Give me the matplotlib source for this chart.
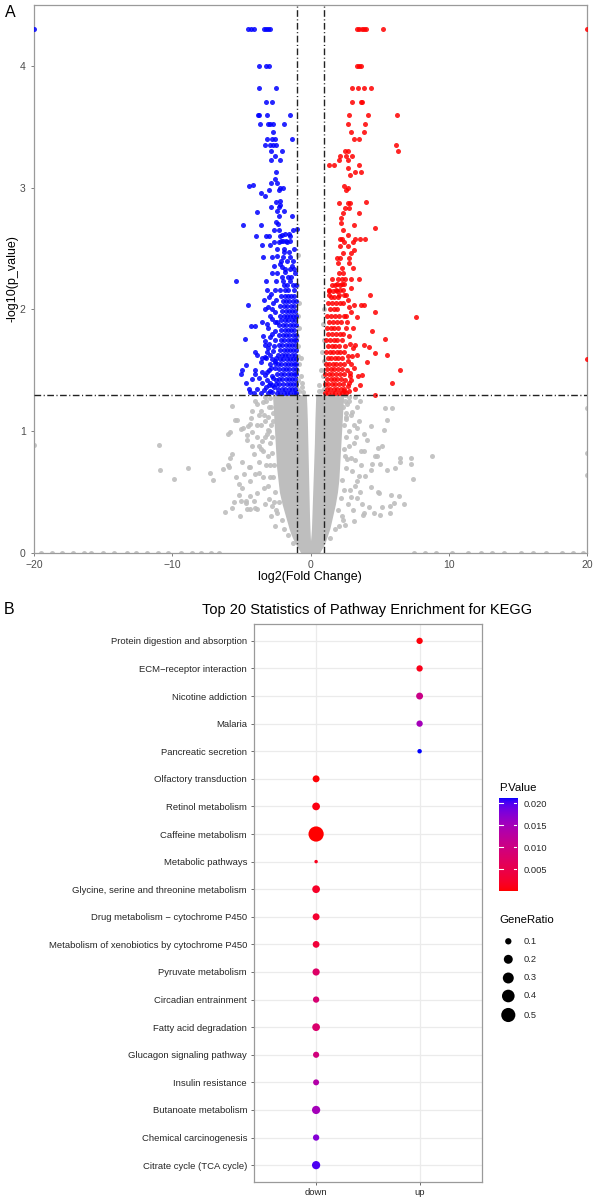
import numpy as np
import matplotlib
matplotlib.use("Agg")
import matplotlib.pyplot as plt
from matplotlib.colors import ListedColormap

plt.rcParams['font.family'] = ['Liberation Sans', 'DejaVu Sans']

# ---------------- Panel A data (volcano) ----------------
# dense grey mass of non-significant genes (envelope)
grey_band_y      = [0.0, 0.05, 0.1, 0.15, 0.2, 0.3, 0.4, 0.5, 0.6, 0.7, 0.8, 0.9, 1.0, 1.1, 1.2, 1.3]
grey_left_outer  = [-0.7, -0.95, -1.2, -1.4, -1.55, -1.8, -2.05, -2.25, -2.35, -2.45, -2.5, -2.55, -2.6, -2.65, -2.7, -2.75]
grey_left_inner  = [0.0, 0.0, 0.0, -0.02, -0.04, -0.07, -0.09, -0.11, -0.13, -0.15, -0.17, -0.19, -0.21, -0.23, -0.26, -0.3]
grey_right_inner = [0.0, 0.0, 0.0, 0.04, 0.07, 0.1, 0.13, 0.16, 0.19, 0.22, 0.25, 0.28, 0.3, 0.32, 0.35, 0.38]
grey_right_outer = [0.65, 0.9, 1.1, 1.25, 1.4, 1.6, 1.8, 1.95, 2.05, 2.1, 2.15, 2.2, 2.25, 2.3, 2.35, 2.4]

grey_pts = [
    (-10.97, 0.89), (-10.9, 0.68), (-9.85, 0.61), (-8.87, 0.70), (-7.3, 0.66), (-7.06, 0.60),
    (-6.31, 0.69), (-5.95, 0.98), (-5.66, 1.21), (-5.47, 1.09), (-5.06, 1.02), (-4.53, 1.04),
    (-4.6, 0.97), (-6.2, 0.34), (-5.7, 0.37), (-5.95, 0.72), (-5.8, 0.78), (-5.42, 0.62),
    (-5.18, 0.57), (-4.94, 0.53), (-4.39, 0.47), (-4.65, 0.43), (-4.37, 0.36), (-3.9, 0.36),
    (-4.1, 0.43), (-4.39, 0.59), (-3.98, 0.65), (-4.46, 0.71), (-4.1, 0.81), (-3.74, 0.88),
    (-3.86, 0.95), (-4.32, 1.11), (-3.61, 1.17), (-3.86, 1.22), (-3.37, 1.13), (-5.06, 0.43),
    (-5.11, 0.30), (-4.6, 0.36), (-4.2, 1.17), (-3.74, 1.13), (-5.3, 1.09), (-5.8, 0.99),
    (-4.9, 1.03), (-4.35, 1.06), (-4.2, 0.99), (-3.3, 1.08), (-3.1, 1.01), (-3.5, 0.92),
    (-4.6, 0.93), (-4.2, 0.88), (-3.4, 0.84), (-5.66, 0.81), (-4.94, 0.75), (-5.9, 0.71),
    (-4.35, 0.71), (-3.74, 0.66), (-4.8, 0.65), (-5.54, 0.42), (-4.7, 0.41), (-3.98, 0.37),
    (-5.18, 0.48), (-3.86, 0.49), (-2.77, 0.39), (-2.41, 0.33), (-2.05, 0.27), (-3.0, 0.44),
    (-3.37, 0.53), (-3.2, 1.25), (-3.0, 1.2), (-2.9, 1.27), (-3.1, 1.12), (-2.85, 1.05),
    (-3.15, 0.98), (-2.9, 0.9), (-2.75, 0.82), (-2.95, 0.72), (-2.7, 0.62), (-2.6, 0.5),
    (-2.3, 0.42), (-2.5, 0.35), (-3.3, 1.28), (-2.7, 1.15), (-2.75, 0.95), (-3.1, 0.8),
    (-2.65, 0.72), (-1.9, 0.2), (-1.6, 0.15), (-1.3, 0.08),
    (-3.45, 1.24), (-3.6, 1.05), (-3.3, 0.95), (-3.55, 0.85), (-3.2, 0.72), (-3.45, 0.62),
    (-3.05, 0.55), (-3.3, 0.4), (-2.85, 0.3), (-2.55, 0.22), (-3.0, 1.0), (-2.85, 1.2),
    (-2.7, 1.08), (-2.95, 0.62), (-2.65, 0.42), (-3.7, 0.75), (-4.0, 1.25), (-3.9, 1.05),
    (5.42, 1.19), (5.9, 1.19), (5.5, 1.09), (4.34, 1.04), (3.9, 0.98), (3.5, 1.08), (3.0, 1.16),
    (3.37, 1.2), (2.6, 1.12), (4.1, 0.93), (4.87, 0.86), (5.18, 0.88), (4.7, 0.80), (3.62, 0.84),
    (8.8, 0.80), (7.25, 0.78), (6.5, 0.75), (7.3, 0.73), (5.06, 0.73), (4.46, 0.73), (3.62, 0.72),
    (5.5, 0.68), (3.25, 0.76), (3.0, 0.67), (3.93, 0.63), (7.45, 0.61), (3.37, 0.59), (4.34, 0.54),
    (4.87, 0.50), (5.8, 0.48), (2.84, 0.52), (3.37, 0.45), (6.05, 0.41), (4.2, 0.38), (5.2, 0.38),
    (3.1, 0.35), (5.06, 0.31), (3.8, 0.31), (2.36, 0.27), (2.96, 0.46), (2.65, 1.22), (2.9, 1.13),
    (3.37, 1.03), (5.3, 1.01), (3.13, 0.9), (3.86, 0.84), (4.82, 0.8), (4.34, 0.68), (3.5, 0.63),
    (6.1, 0.7), (6.5, 0.78), (2.65, 0.77), (4.94, 0.49), (5.78, 0.39), (6.75, 0.40), (6.4, 0.47),
    (4.58, 0.33), (5.78, 0.33), (3.74, 0.4), (3.13, 0.26), (2.53, 0.23), (3.86, 0.33),
    (2.5, 1.25), (2.6, 1.15), (2.45, 1.05), (2.55, 0.95), (2.4, 0.85), (2.6, 0.7), (2.3, 0.6),
    (2.2, 0.45), (2.0, 0.35), (2.75, 1.28), (2.8, 1.0), (2.35, 1.2), (1.8, 0.2), (1.4, 0.12),
    (2.5, 1.3), (2.8, 1.25), (3.2, 1.28), (3.6, 1.25), (2.55, 1.1), (3.15, 1.05), (2.75, 0.88),
    (3.3, 0.95), (2.5, 0.8), (2.95, 0.78), (2.45, 0.52), (2.7, 0.4), (2.3, 0.3), (2.05, 0.22),
    (3.6, 0.5), (3.2, 0.55),
    (-0.95, 1.35), (-0.8, 1.33), (-0.65, 1.36), (-0.9, 1.42), (-0.72, 1.45), (-0.95, 1.5),
    (-0.82, 1.55), (-0.93, 1.62), (-0.7, 1.6), (-0.88, 1.7), (-0.95, 1.78), (-0.8, 1.85),
    (-0.92, 1.95), (-0.85, 2.05), (-0.95, 2.2), (-0.93, 2.45), (-0.6, 1.4), (-0.55, 1.32),
    (0.95, 1.35), (0.8, 1.33), (0.65, 1.38), (0.9, 1.45), (0.75, 1.5), (0.95, 1.58), (0.85, 1.65),
    (0.95, 1.75), (0.9, 1.88), (0.6, 1.33), (0.97, 2.0),
    (-20, 0.89), (20, 1.19), (20, 0.82), (20, 0.64),
]
grey_zero_x = [-19.5, -18.7, -18.0, -17.2, -16.4, -15.9, -15.0, -14.2, -13.3, -12.6, -11.8, -11.0,
               -10.3, -9.4, -8.6, -7.9, -7.2, -6.6, 7.5, 8.3, 9.1, 10.2, 11.4, 12.3, 13.1, 14.0,
               15.2, 16.1, 17.0, 18.2, 19.0, 19.7]

blue_pts = [
    (-20, 4.3), (-4.5, 4.3), (-4.3, 4.3), (-4.1, 4.3), (-3.35, 4.3), (-3.2, 4.3), (-3.05, 4.3), (-2.95, 4.3),
    (-3.69, 4.0), (-3.2, 4.0), (-3.0, 4.0), (-3.74, 3.82), (-2.53, 3.82), (-3.25, 3.70), (-2.77, 3.70),
    (-3.81, 3.60), (-3.69, 3.60), (-3.13, 3.60), (-1.50, 3.60), (-3.67, 3.52), (-3.09, 3.52), (-2.94, 3.52),
    (-2.70, 3.52), (-1.93, 3.52), (-2.70, 3.46), (-3.13, 3.40), (-2.77, 3.40), (-2.60, 3.40), (-1.32, 3.40),
    (-3.30, 3.35), (-2.94, 3.35), (-2.70, 3.35), (-2.53, 3.35), (-2.89, 3.30), (-2.05, 3.30), (-2.60, 3.26),
    (-2.84, 3.23), (-2.17, 3.23), (-2.53, 3.13), (-2.58, 3.07), (-2.89, 3.04), (-2.41, 3.04),
    (-4.46, 3.01), (-4.14, 3.02), (-2.24, 3.0), (-2.00, 3.0), (-3.01, 2.98), (-2.31, 2.98), (-3.61, 2.96),
    (-3.30, 2.93), (-2.53, 2.88), (-2.24, 2.89), (-2.17, 2.86), (-2.89, 2.84), (-2.31, 2.84), (-2.41, 2.81),
    (-1.93, 2.81), (-3.86, 2.80), (-1.37, 2.77), (-2.29, 2.77), (-2.53, 2.72), (-2.36, 2.70), (-4.87, 2.69),
    (-3.61, 2.69), (-2.65, 2.65), (-2.29, 2.65), (-1.25, 2.65), (-1.01, 2.66), (-3.95, 2.60), (-3.25, 2.60),
    (-3.01, 2.60), (-2.22, 2.60), (-2.05, 2.61), (-1.45, 2.60), (-2.65, 2.55), (-2.29, 2.55), (-2.12, 2.56),
    (-1.69, 2.55), (-3.49, 2.53), (-2.94, 2.53), (-2.41, 2.50), (-1.93, 2.50), (-1.16, 2.50), (-3.42, 2.43),
    (-2.77, 2.43), (-2.41, 2.44), (-1.98, 2.43), (-1.45, 2.43), (-2.65, 2.36), (-2.22, 2.37), (-2.05, 2.35),
    (-1.32, 2.36), (-2.77, 2.30), (-2.41, 2.30), (-1.88, 2.31), (-1.13, 2.30), (-5.42, 2.23), (-3.25, 2.23),
    (-2.46, 2.23), (-1.98, 2.23), (-1.45, 2.23), (-3.13, 2.16), (-2.60, 2.16), (-2.17, 2.16), (-1.81, 2.16),
    (-1.64, 2.16), (-1.20, 2.16), (-4.5, 2.04), (-4.29, 1.86), (-3.98, 1.86), (-4.77, 1.76), (-3.28, 1.71),
    (-4.05, 1.65), (-3.13, 1.65), (-3.54, 1.60), (-3.30, 1.61), (-2.82, 1.59), (-4.63, 1.54), (-4.94, 1.50),
    (-3.98, 1.50), (-3.49, 1.49), (-3.01, 1.50), (-4.2, 1.43), (-3.74, 1.44), (-3.13, 1.42), (-4.63, 1.40),
    (-3.49, 1.40), (-4.45, 1.35), (-3.9, 1.35), (-4.1, 1.31), (-3.6, 1.31), (-3.05, 1.31), (-2.75, 1.32),
    (-4.4, 1.32), (-5.0, 1.47), (-3.98, 1.47), (-3.9, 1.63),
    (-3.0, 2.1), (-2.7, 2.05), (-3.3, 2.0), (-2.9, 1.95), (-3.5, 1.9), (-2.6, 1.9), (-3.1, 1.85), (-2.8, 1.8),
    (-3.4, 1.78), (-2.55, 1.75), (-3.0, 1.72), (-2.7, 1.66), (-2.5, 1.6), (-3.6, 1.57), (-2.9, 1.55),
    (-2.6, 1.52), (-3.3, 1.46), (-2.8, 1.45), (-2.5, 1.42), (-3.0, 1.38), (-2.65, 1.36), (-3.35, 1.34),
    (-2.9, 1.33),
    (-3.25, 1.36), (-2.95, 1.4), (-2.7, 1.44), (-3.15, 1.49), (-2.85, 1.52), (-2.55, 1.56), (-3.2, 1.6),
    (-2.95, 1.63), (-2.65, 1.7), (-3.3, 1.74), (-2.9, 1.77), (-2.6, 1.82), (-3.15, 1.88), (-2.8, 1.92),
    (-2.55, 1.98), (-3.1, 2.02), (-2.75, 2.0), (-2.5, 2.08), (-2.85, 2.13), (-3.35, 2.08), (-2.6, 1.58),
    (-2.75, 1.38), (-3.05, 1.68), (-2.45, 1.9),
]
blue_core_rows = [
    (1.31, [-2.45, -2.2, -1.95, -1.7, -1.45, -1.22, -1.05]),
    (1.35, [-2.35, -2.08, -1.82, -1.58, -1.33, -1.1]),
    (1.39, [-2.5, -2.25, -1.98, -1.72, -1.5, -1.27, -1.04]),
    (1.43, [-2.3, -2.05, -1.8, -1.55, -1.35, -1.12]),
    (1.47, [-2.42, -2.15, -1.9, -1.66, -1.42, -1.2, -1.03]),
    (1.51, [-2.28, -2.02, -1.77, -1.52, -1.3, -1.08]),
    (1.55, [-2.38, -2.12, -1.88, -1.62, -1.4, -1.18, -1.02]),
    (1.59, [-2.22, -1.97, -1.72, -1.48, -1.26, -1.07]),
    (1.63, [-2.35, -2.08, -1.83, -1.6, -1.37, -1.15]),
    (1.67, [-2.2, -1.95, -1.7, -1.47, -1.24, -1.03]),
    (1.71, [-2.3, -2.05, -1.8, -1.56, -1.33, -1.1]),
    (1.75, [-2.15, -1.9, -1.66, -1.43, -1.2, -1.02]),
    (1.79, [-2.28, -2.02, -1.77, -1.53, -1.3, -1.08]),
    (1.83, [-2.12, -1.87, -1.62, -1.4, -1.17]),
    (1.87, [-2.25, -1.98, -1.74, -1.5, -1.27, -1.04]),
    (1.91, [-2.1, -1.85, -1.6, -1.37, -1.14]),
    (1.95, [-2.2, -1.95, -1.7, -1.46, -1.23, -1.02]),
    (1.99, [-2.05, -1.8, -1.57, -1.33, -1.1]),
    (2.03, [-2.18, -1.92, -1.67, -1.43, -1.2]),
    (2.07, [-2.0, -1.76, -1.52, -1.3, -1.06]),
    (2.11, [-2.12, -1.88, -1.63, -1.4, -1.16]),
    (2.20, [-1.95, -1.7, -1.3, -1.08]),
    (2.27, [-2.05, -1.6, -1.38]),
    (2.33, [-1.85, -1.5, -1.2]),
    (2.40, [-2.15, -1.7, -1.25]),
    (2.47, [-1.9, -1.55]),
    (2.56, [-2.0, -1.75, -1.5]),
    (2.62, [-1.85, -1.58]),
]

red_pts = [
    (20, 4.3), (3.38, 4.3), (3.54, 4.3), (3.69, 4.3), (3.85, 4.3), (4.05, 4.3), (5.23, 4.3),
    (3.38, 4.0), (3.5, 4.0), (3.66, 4.0), (3.01, 3.82), (3.45, 3.82), (3.85, 3.82), (4.34, 3.82),
    (3.01, 3.70), (3.66, 3.70), (3.74, 3.70), (2.82, 3.60), (4.15, 3.60), (6.29, 3.60), (2.72, 3.52),
    (3.95, 3.52), (2.92, 3.46), (3.85, 3.46), (3.16, 3.40), (3.49, 3.40), (6.2, 3.35), (2.48, 3.30),
    (2.72, 3.30), (6.3, 3.30), (2.14, 3.26), (2.6, 3.26), (3.01, 3.26), (2.07, 3.23), (2.72, 3.23),
    (1.33, 3.19), (1.69, 3.19), (3.49, 3.19), (2.72, 3.16), (3.21, 3.13), (3.62, 3.13), (2.84, 3.10),
    (2.43, 3.01), (2.55, 2.98), (2.72, 3.0), (2.09, 2.87), (2.72, 2.87), (2.84, 2.87), (3.98, 2.88),
    (2.48, 2.83), (2.82, 2.83), (2.36, 2.79), (3.49, 2.79), (2.19, 2.75), (2.19, 2.71), (3.16, 2.69),
    (4.7, 2.67), (2.36, 2.65), (2.72, 2.61), (2.14, 2.58), (2.31, 2.58), (3.21, 2.58), (3.57, 2.58),
    (3.93, 2.58), (2.41, 2.55), (3.04, 2.55), (2.14, 2.52), (2.72, 2.52), (3.13, 2.49), (2.36, 2.46),
    (2.96, 2.46), (1.9, 2.42), (2.14, 2.42), (2.82, 2.42), (2.02, 2.38), (2.82, 2.38), (2.26, 2.34),
    (3.04, 2.34), (2.09, 2.30), (2.38, 2.30), (1.52, 2.25), (2.02, 2.25), (2.26, 2.25), (2.96, 2.25),
    (3.49, 2.25), (1.9, 2.21), (2.26, 2.21), (2.43, 2.21), (1.33, 2.16), (1.81, 2.16), (2.14, 2.16),
    (2.38, 2.16), (1.33, 2.12), (2.09, 2.12), (2.41, 2.12), (4.27, 2.12), (3.85, 2.04), (3.13, 2.04),
    (3.62, 2.04), (4.65, 1.98), (7.6, 1.94), (3.37, 1.94), (4.46, 1.82), (5.42, 1.76), (3.25, 1.71),
    (3.85, 1.71), (4.25, 1.69), (3.37, 1.63), (4.65, 1.64), (5.55, 1.63), (4.1, 1.57), (20, 1.59),
    (6.5, 1.50), (2.84, 1.45), (3.45, 1.45), (3.76, 1.46), (5.9, 1.40), (3.57, 1.38), (4.63, 1.30),
    (2.7, 2.08), (2.9, 1.98), (2.65, 1.9), (3.05, 1.85), (2.75, 1.78), (3.1, 1.68), (2.7, 1.62),
    (2.95, 1.55), (2.62, 1.5), (3.15, 1.52), (2.8, 1.4), (3.2, 1.35), (2.75, 1.33), (2.5, 1.7), (2.55, 1.95),
    (2.45, 1.33), (2.7, 1.37), (2.5, 1.42), (2.85, 1.48), (2.45, 1.55), (2.7, 1.58), (2.4, 1.65),
    (2.85, 1.72), (2.35, 1.8), (2.6, 1.85), (2.4, 1.95), (2.75, 2.02), (2.35, 2.05), (2.55, 2.12),
    (2.9, 2.18), (2.5, 2.25), (3.0, 1.62), (2.95, 1.42),
]
red_core_rows = [
    (1.31, [1.08, 1.3, 1.55, 1.8, 2.05, 2.3, 2.6]),
    (1.35, [1.18, 1.42, 1.68, 1.92, 2.18, 2.45]),
    (1.39, [1.06, 1.3, 1.55, 1.8, 2.05, 2.32]),
    (1.43, [1.2, 1.45, 1.7, 1.95, 2.2]),
    (1.47, [1.08, 1.32, 1.58, 1.83, 2.1, 2.4]),
    (1.51, [1.22, 1.48, 1.72, 1.98, 2.25]),
    (1.55, [1.1, 1.36, 1.6, 1.86, 2.12]),
    (1.60, [1.25, 1.5, 1.75, 2.0, 2.3]),
    (1.65, [1.12, 1.38, 1.64, 1.9, 2.15]),
    (1.70, [1.28, 1.55, 1.8, 2.06]),
    (1.75, [1.15, 1.42, 1.68, 1.95, 2.25]),
    (1.80, [1.3, 1.58, 1.85, 2.1]),
    (1.85, [1.18, 1.45, 1.72, 2.0]),
    (1.90, [1.35, 1.62, 1.9, 2.2]),
    (1.95, [1.22, 1.5, 1.78, 2.05]),
    (2.00, [1.4, 1.68, 1.95]),
    (2.05, [1.28, 1.55, 1.85, 2.15]),
    (2.10, [1.45, 1.72, 2.0]),
    (2.15, [1.35, 1.62, 1.9]),
    (2.20, [1.52, 1.8, 2.1]),
]
fc_cut = 1.0
p_cut = 1.301

# ---------------- Panel B data (KEGG dot plot) ----------------
pathways = [
    "Protein digestion and absorption", "ECM\u2212receptor interaction", "Nicotine addiction",
    "Malaria", "Pancreatic secretion", "Olfactory transduction", "Retinol metabolism",
    "Caffeine metabolism", "Metabolic pathways", "Glycine, serine and threonine metabolism",
    "Drug metabolism \u2212 cytochrome P450", "Metabolism of xenobiotics by cytochrome P450",
    "Pyruvate metabolism", "Circadian entrainment", "Fatty acid degradation",
    "Glucagon signaling pathway", "Insulin resistance", "Butanoate metabolism",
    "Chemical carcinogenesis", "Citrate cycle (TCA cycle)",
]
direction = ["up"] * 5 + ["down"] * 15
gene_ratio = [0.10, 0.10, 0.12, 0.10, 0.05, 0.12, 0.15, 0.58, 0.03, 0.15,
              0.12, 0.115, 0.13, 0.10, 0.15, 0.095, 0.09, 0.17, 0.10, 0.17]
p_value = [0.0006, 0.0012, 0.0105, 0.0150, 0.0211, 0.0004, 0.0009, 0.0002, 0.0015, 0.0022,
           0.0028, 0.0035, 0.0075, 0.0085, 0.0080, 0.0095, 0.0135, 0.0150, 0.0175, 0.0200]
dir_levels = ["down", "up"]
p_breaks = [0.005, 0.010, 0.015, 0.020]
ratio_breaks = [0.1, 0.2, 0.3, 0.4, 0.5]

# ---------------- colour map: ggplot-like Lab gradient red -> blue ----------------
_M = np.array([[0.4124564, 0.3575761, 0.1804375],
               [0.2126729, 0.7151522, 0.0721750],
               [0.0193339, 0.1191920, 0.9503041]])
_WP = np.array([0.95047, 1.0, 1.08883])


def srgb_to_lab(c):
    c = np.asarray(c, float)
    lin = np.where(c <= 0.04045, c / 12.92, ((c + 0.055) / 1.055) ** 2.4)
    t = (_M @ lin) / _WP
    f = np.where(t > (6 / 29) ** 3, np.cbrt(t), t / (3 * (6 / 29) ** 2) + 4 / 29)
    return np.array([116 * f[1] - 16, 500 * (f[0] - f[1]), 200 * (f[1] - f[2])])


def lab_to_srgb(lab):
    L, a, b = lab
    fy_ = (L + 16) / 116
    fx_ = fy_ + a / 500
    fz_ = fy_ - b / 200

    def finv(t):
        return np.where(t > 6 / 29, t ** 3, 3 * (6 / 29) ** 2 * (t - 4 / 29))
    xyz = np.array([finv(fx_), finv(fy_), finv(fz_)]) * _WP
    lin = np.clip(np.linalg.inv(_M) @ xyz, 0, 1)
    c = np.where(lin <= 0.0031308, 12.92 * lin, 1.055 * lin ** (1 / 2.4) - 0.055)
    return np.clip(c, 0, 1)


lab_lo = srgb_to_lab([1, 0, 0])
lab_hi = srgb_to_lab([0, 0, 1])
cols = [lab_to_srgb(lab_lo + (lab_hi - lab_lo) * t) for t in np.linspace(0, 1, 256)]
cmap = ListedColormap(cols)

# ---------------- figure ----------------
W, H = 597, 1201
fig = plt.figure(figsize=(W / 100, H / 100), dpi=100)


def fx(px):
    return px / W


def fy(py):
    return 1 - py / H


GREY = "#bebebe"
PT_S = 13

# ---------- Panel A ----------
axA = fig.add_axes([fx(34), fy(553), (587 - 34) / W, (553 - 5) / H])
axA.fill_betweenx(grey_band_y, grey_left_outer, grey_left_inner, color=GREY, lw=0, zorder=1)
axA.fill_betweenx(grey_band_y, grey_right_inner, grey_right_outer, color=GREY, lw=0, zorder=1)
gx, gy = zip(*grey_pts)
axA.scatter(gx, gy, s=PT_S, color=GREY, lw=0, alpha=0.9, zorder=2)
axA.scatter(grey_zero_x, [0] * len(grey_zero_x), s=PT_S, color=GREY, lw=0, alpha=0.9, zorder=2)

bx = [x for x, y in blue_pts] + [x for y, xs in blue_core_rows for x in xs]
by = [y for x, y in blue_pts] + [y for y, xs in blue_core_rows for x in xs]
rx = [x for x, y in red_pts] + [x for y, xs in red_core_rows for x in xs]
ry = [y for x, y in red_pts] + [y for y, xs in red_core_rows for x in xs]
axA.scatter(bx, by, s=PT_S, color="#0000ff", lw=0, alpha=0.85, zorder=3)
axA.scatter(rx, ry, s=PT_S, color="#ff0000", lw=0, alpha=0.85, zorder=3)

ls = (0, (4.8, 1.8, 0.8, 1.8))
axA.axvline(-fc_cut, color="#222222", lw=1.0, ls=ls, zorder=5)
axA.axvline(fc_cut, color="#222222", lw=1.0, ls=ls, zorder=5)
axA.axhline(p_cut, color="#222222", lw=1.0, ls=ls, zorder=5)

axA.set_xlim(-20, 20)
axA.set_ylim(0, 4.5)
axA.set_xticks([-20, -10, 0, 10, 20])
axA.set_yticks([0, 1, 2, 3, 4])
axA.tick_params(axis="both", labelsize=7.5, labelcolor="#4d4d4d", color="#7f7f7f",
                length=2.5, width=0.7)
axA.tick_params(axis="y", pad=3.5)
axA.tick_params(axis="x", pad=2.5)
for sp in axA.spines.values():
    sp.set_color("#9a9a9a")
    sp.set_linewidth(0.9)

fig.text(fx(310), fy(577), "log2(Fold Change)", ha="center", va="center", fontsize=9)
fig.text(fx(12.5), fy(279), "-log10(p_value)", ha="center", va="center", fontsize=9, rotation=90)
fig.text(fx(10), fy(12.5), "A", ha="center", va="center", fontsize=11.5)
fig.text(fx(9), fy(609), "B", ha="center", va="center", fontsize=11.5)

# ---------- Panel B ----------
SIZE_K = 207
n = len(pathways)
ypos = [n - 1 - i for i in range(n)]
xpos = [dir_levels.index(d) + 1 for d in direction]
pmin, pmax = min(p_value), max(p_value)

axB = fig.add_axes([fx(254), fy(1181.7), (481.7 - 254) / W, (1181.7 - 624.3) / H])
axB.set_axisbelow(True)
axB.grid(True, color="#ebebeb", lw=0.9)
axB.scatter(xpos, ypos, s=np.array(gene_ratio) * SIZE_K, c=p_value, cmap=cmap,
            vmin=pmin, vmax=pmax, lw=0, zorder=3)
axB.set_xlim(0.4, 2.6)
axB.set_ylim(-0.6, n - 0.4)
axB.set_xticks([1, 2])
axB.set_xticklabels(dir_levels)
axB.set_yticks(ypos)
axB.set_yticklabels(pathways)
axB.tick_params(axis="both", labelsize=6.8, labelcolor="#262626", color="#555555",
                length=2.5, width=0.6)
axB.tick_params(axis="y", pad=2.5)
axB.tick_params(axis="x", pad=2)
for sp in axB.spines.values():
    sp.set_color("#9a9a9a")
    sp.set_linewidth(0.9)

fig.text(fx(367.5), fy(610), "Top 20 Statistics of Pathway Enrichment for KEGG",
         ha="center", va="center", fontsize=10.5)

# colour bar legend
fig.text(fx(499.3), fy(788), "P.Value", ha="left", va="center", fontsize=8.2)
cax = fig.add_axes([fx(499.3), fy(890.7), 18 / W, (890.7 - 798.3) / H])
grad = np.linspace(pmin, pmax, 256)[:, None]
cax.imshow(grad, aspect="auto", origin="lower", cmap=cmap, vmin=pmin, vmax=pmax,
           extent=[0, 1, pmin, pmax])
cax.set_xlim(0, 1)
cax.set_ylim(pmin, pmax)
for v in p_breaks:
    cax.plot([0, 0.2], [v, v], color="white", lw=0.8)
    cax.plot([0.8, 1], [v, v], color="white", lw=0.8)
cax.set_xticks([])
cax.yaxis.tick_right()
cax.set_yticks(p_breaks)
cax.set_yticklabels([f"{v:.3f}" for v in p_breaks])
cax.tick_params(axis="y", length=0, pad=4.8, labelsize=6.7, labelcolor="#262626")
for sp in cax.spines.values():
    sp.set_visible(False)

# size legend
fig.text(fx(499.3), fy(920), "GeneRatio", ha="left", va="center", fontsize=8.2)
lax = fig.add_axes([0, 0, 1, 1], zorder=-1)
lax.set_xlim(0, W)
lax.set_ylim(H, 0)
lax.axis("off")
leg_y = [941.3, 959.3, 978, 996, 1015]
lax.scatter([508.3] * len(ratio_breaks), leg_y, s=np.array(ratio_breaks) * SIZE_K,
            color="black", lw=0)
for v, yy in zip(ratio_breaks, leg_y):
    lax.text(523.5, yy, f"{v:.1f}", ha="left", va="center", fontsize=6.7, color="#262626")

fig.savefig("out.png", dpi=100)
